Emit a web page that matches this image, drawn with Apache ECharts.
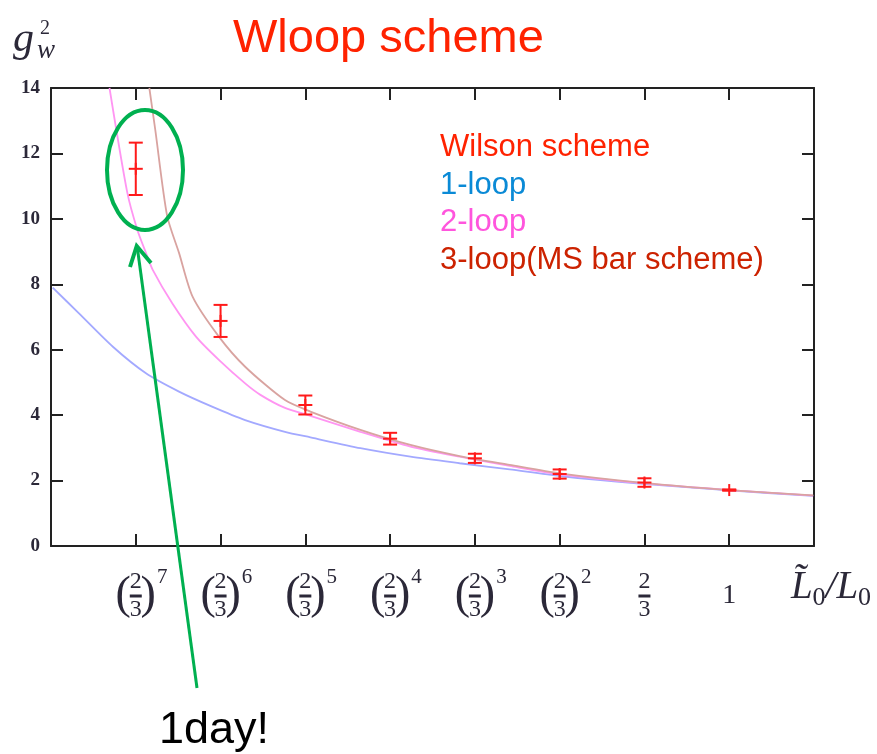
<!DOCTYPE html>
<html>
<head>
<meta charset="utf-8">
<script src="https://cdn.jsdelivr.net/npm/echarts@6/dist/echarts.min.js"></script>
<style>
  html, body { margin: 0; padding: 0; background: #ffffff; }
  #chart { width: 877px; height: 754px; }
</style>
</head>
<body>
<div id="chart"></div>
<script>
// Box size ratio L~0/L0 = (2/3)^n; the horizontal coordinate is -n.
const wilsonPower = [7, 6, 5, 4, 3, 2, 1, 0];
const wilsonG2    = [11.53, 6.88, 4.31, 3.28, 2.68, 2.20, 1.94, 1.71];
const wilsonErr   = [0.80, 0.49, 0.29, 0.18, 0.14, 0.14, 0.13, 0.02];

// perturbative running coupling curves, [ -n, g^2 ]
const oneLoop = [
  [-7.98, 7.90], [-7.67, 7.11], [-7.27, 6.09], [-6.88, 5.28], [-6.49, 4.72],
  [-6.10, 4.26], [-5.71, 3.85], [-5.24, 3.49], [-4.94, 3.32], [-4.35, 2.99],
  [-3.76, 2.73], [-3.18, 2.53], [-2.59, 2.34], [-2.00, 2.14], [-1.02, 1.90],
  [0.00, 1.70], [0.99, 1.53]
];
const twoLoop = [
  [-7.31, 14.0], [-7.10, 10.8], [-6.98, 9.65], [-6.88, 8.96], [-6.80, 8.44],
  [-6.57, 7.42], [-6.29, 6.40], [-6.02, 5.69], [-5.71, 4.97], [-5.53, 4.62],
  [-5.24, 4.22], [-4.94, 3.98], [-4.35, 3.49], [-3.76, 3.04], [-3.18, 2.73],
  [-2.59, 2.45], [-2.00, 2.19], [-1.02, 1.92], [0.00, 1.71], [0.99, 1.54]
];
const threeLoop = [
  [-6.84, 14.0], [-6.77, 12.72], [-6.63, 10.09], [-6.49, 8.96], [-6.33, 7.62],
  [-6.02, 6.40], [-5.71, 5.48], [-5.24, 4.46], [-4.94, 4.11], [-4.35, 3.55],
  [-3.76, 3.09], [-3.18, 2.75], [-2.59, 2.48], [-2.00, 2.22], [-1.02, 1.93],
  [0.00, 1.71], [0.99, 1.55]
];

const seriesNames = ['Wilson scheme', '1-loop', '2-loop', '3-loop(MS bar scheme)'];
const legendColors = ['#ff2200', '#0a8ad6', '#ff55dd', '#cc2200'];

const serif = 'Liberation Serif';
const ink = '#2b2838';
const frame = '#222222';

// tick label: (2/3)^n drawn as a stacked fraction in parentheses
function tickLabel(v) {
  const n = -Math.round(v);
  if (n >= 2 && n <= 7) {
    return '{sp14| }{sp13| }{num|2}{sp13| }{sup|' + n + '}\n' +
           '{sp14| }{lp|(}{bar| }{rp|)}{sp14| }\n' +
           '{sp14| }{sp13| }{den|3}{sp13| }{sp14| }';
  }
  if (n === 1) return '{sp13| }{num|2}{sp13| }\n{bar| }\n{sp13| }{den|3}{sp13| }';
  if (n === 0) return '{h27| }\n{one|1}\n{h22| }';
  return '';
}

const tickRich = {
  sp14: { width: 14, fontSize: 2, lineHeight: 2, align: 'center' },
  sp13: { width: 13, fontSize: 2, lineHeight: 2, align: 'center' },
  h27:  { fontSize: 2, lineHeight: 27, align: 'center' },
  h22:  { fontSize: 2, lineHeight: 22, align: 'center' },
  num:  { width: 13, fontSize: 24, lineHeight: 27, verticalAlign: 'bottom', align: 'center', fontFamily: serif, color: ink },
  sup:  { width: 14, fontSize: 21, lineHeight: 21, verticalAlign: 'top', align: 'center', fontFamily: serif, color: ink },
  lp:   { width: 13, fontSize: 46, lineHeight: 4, align: 'center', fontFamily: serif, color: ink },
  rp:   { width: 13, fontSize: 46, lineHeight: 4, align: 'center', fontFamily: serif, color: ink },
  bar:  { width: 12, height: 3, fontSize: 2, lineHeight: 4, align: 'center', backgroundColor: ink },
  den:  { width: 13, fontSize: 24, lineHeight: 22, verticalAlign: 'top', align: 'center', fontFamily: serif, color: ink },
  one:  { fontSize: 28, lineHeight: 4, align: 'center', fontFamily: serif, color: ink }
};

function renderErrorBar(params, api) {
  const x = api.value(0), m = api.value(1), e = api.value(2);
  const c = api.coord([x, m]);
  const hi = api.coord([x, m + e]);
  const lo = api.coord([x, m - e]);
  const cap = 7, arm = 6;
  const style = { stroke: '#ff1a1a', lineWidth: 2 };
  return {
    type: 'group',
    children: [
      { type: 'line', shape: { x1: c[0], y1: hi[1], x2: c[0], y2: lo[1] }, style },
      { type: 'line', shape: { x1: c[0] - cap, y1: hi[1], x2: c[0] + cap, y2: hi[1] }, style },
      { type: 'line', shape: { x1: c[0] - cap, y1: lo[1], x2: c[0] + cap, y2: lo[1] }, style },
      { type: 'line', shape: { x1: c[0] - cap, y1: c[1], x2: c[0] + cap, y2: c[1] }, style },
      { type: 'line', shape: { x1: c[0], y1: c[1] - arm, x2: c[0], y2: c[1] + arm }, style }
    ]
  };
}

const axisLine = { show: true, onZero: false, lineStyle: { color: frame, width: 2 } };
const axisTick = { show: true, inside: true, length: 12, lineStyle: { color: frame, width: 2 } };

const chart = echarts.init(document.getElementById('chart'), null, { renderer: 'canvas' });

chart.setOption({
  animation: false,
  backgroundColor: '#ffffff',
  title: {
    text: 'Wloop scheme',
    left: 228, top: 11,
    textStyle: { fontFamily: 'Liberation Sans', fontSize: 47, fontWeight: 'normal', color: '#ff2200' }
  },
  legend: {
    orient: 'vertical',
    left: 430, top: 127,
    icon: 'none',
    itemWidth: 0, itemHeight: 10, itemGap: 6.7,
    selectedMode: false,
    textStyle: { fontFamily: 'Liberation Sans', fontSize: 31, lineHeight: 31 },
    data: seriesNames.map((name, i) => ({ name, textStyle: { color: legendColors[i] } }))
  },
  grid: { left: 51, right: 63, top: 88, bottom: 208 },
  xAxis: [
    {
      type: 'value', min: -8, max: 1, interval: 1, position: 'bottom',
      axisLine, axisTick, splitLine: { show: false },
      axisLabel: { margin: 21, formatter: tickLabel, rich: tickRich, showMinLabel: true, showMaxLabel: true },
      name: '{L|L\u0303}{s|0}{L|/L}{s|0}',
      nameLocation: 'end', nameGap: 17, nameMoveOverlap: false,
      nameTextStyle: {
        align: 'center', verticalAlign: 'top', padding: [22, 0, 0, 0],
        rich: {
          L: { fontFamily: serif, fontStyle: 'italic', fontSize: 39, lineHeight: 38, verticalAlign: 'top', color: ink },
          s: { fontFamily: serif, fontSize: 26, lineHeight: 43, verticalAlign: 'bottom', color: ink }
        }
      }
    },
    {
      type: 'value', min: -8, max: 1, interval: 1, position: 'top',
      axisLine, axisTick, splitLine: { show: false }, axisLabel: { show: false }
    }
  ],
  yAxis: [
    {
      type: 'value', min: 0, max: 14, interval: 2, position: 'left',
      axisLine, axisTick, splitLine: { show: false },
      axisLabel: { margin: 11, fontFamily: serif, fontWeight: 'bold', fontSize: 19, color: ink }
    },
    {
      type: 'value', min: 0, max: 14, interval: 2, position: 'right',
      axisLine, axisTick, splitLine: { show: false }, axisLabel: { show: false }
    }
  ],
  series: [
    {
      name: seriesNames[1], type: 'line', data: oneLoop, symbol: 'none', silent: true,
      smooth: 0.25, z: 2,
      lineStyle: { color: '#a3a9ff', width: 1.8 }, itemStyle: { color: '#a3a9ff' }
    },
    {
      name: seriesNames[2], type: 'line', data: twoLoop, symbol: 'none', silent: true,
      smooth: 0.25, z: 2,
      lineStyle: { color: '#ff95f2', width: 1.8 }, itemStyle: { color: '#ff95f2' }
    },
    {
      name: seriesNames[3], type: 'line', data: threeLoop, symbol: 'none', silent: true,
      smooth: 0.25, z: 2,
      lineStyle: { color: '#d9a3a0', width: 1.8 }, itemStyle: { color: '#d9a3a0' }
    },
    {
      name: seriesNames[0], type: 'custom', z: 3, silent: true,
      renderItem: renderErrorBar,
      encode: { x: 0, y: 1 },
      itemStyle: { color: '#ff1a1a' },
      data: wilsonPower.map((p, i) => [-p, wilsonG2[i], wilsonErr[i]])
    }
  ],
  graphic: [
    // axis quantity g_w^2
    { type: 'text', x: 13, y: 40, style: { text: 'g', fontFamily: serif, fontStyle: 'italic', fontSize: 42, fill: ink, verticalAlign: 'middle' } },
    { type: 'text', x: 37, y: 51, style: { text: 'w', fontFamily: serif, fontStyle: 'italic', fontSize: 27, fill: ink, verticalAlign: 'middle' } },
    { type: 'text', x: 40, y: 29, style: { text: '2', fontFamily: serif, fontSize: 20, fill: ink, verticalAlign: 'middle' } },
    // highlight around the smallest box
    { type: 'ellipse', z: 100, shape: { cx: 145, cy: 170, rx: 38, ry: 60 },
      style: { fill: 'none', stroke: '#00b050', lineWidth: 4 } },
    { type: 'line', z: 100, shape: { x1: 197, y1: 688, x2: 137.5, y2: 249 },
      style: { stroke: '#00b050', lineWidth: 3 } },
    { type: 'polyline', z: 100, shape: { points: [[130, 267], [136.7, 246], [151, 263]] },
      style: { fill: 'none', stroke: '#00b050', lineWidth: 4 } },
    { type: 'text', z: 100, x: 159, y: 731, style: { text: '1day!', fontFamily: 'Liberation Sans', fontSize: 45, fill: '#000000', verticalAlign: 'middle' } }
  ]
});
</script>
</body>
</html>
